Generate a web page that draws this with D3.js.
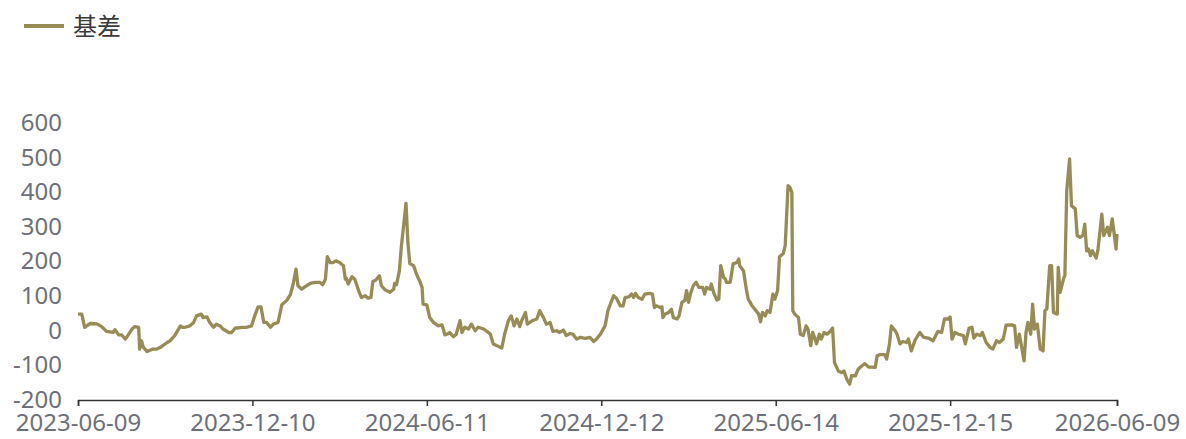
<!DOCTYPE html>
<html>
<head>
<meta charset="utf-8">
<script src="https://cdn.jsdelivr.net/npm/d3@7"></script>
<style>
  html, body { margin: 0; padding: 0; background: #fff; }
  #chart { width: 1186px; height: 439px; }
  text { font-family: "Noto Sans", "Noto Sans CJK SC", sans-serif; }
</style>
</head>
<body>
<div id="chart"></div>
<script>
const startDate = "2023-06-09";
const endDate = "2026-06-09";
const seriesName = "基差";
const tickLabels = ["2023-06-09", "2023-12-10", "2024-06-11", "2024-12-12", "2025-06-14", "2025-12-15", "2026-06-09"];
const yTicks = [-200, -100, 0, 100, 200, 300, 400, 500, 600];

// days since startDate
const dayIndex = [
  0, 4, 7, 13, 20, 25, 30, 37, 39, 43, 46, 50, 53, 57, 60, 64, 65, 67, 69, 73,
  79, 83, 87, 94, 97, 102, 108, 110, 113, 118, 122, 125, 130, 132, 136, 139, 143, 146, 150, 153,
  159, 162, 166, 169, 173, 178, 183, 187, 190, 193, 196, 199, 203, 206, 211, 215, 220, 224, 227, 230,
  232, 236, 241, 245, 250, 255, 258, 261, 263, 266, 269, 272, 276, 280, 282, 283, 285, 289, 292, 296,
  299, 303, 306, 309, 311, 314, 318, 320, 324, 329, 333, 334, 336, 339, 341, 346, 348, 350, 354, 357,
  361, 363, 364, 368, 371, 375, 380, 384, 387, 391, 392, 396, 399, 403, 405, 408, 412, 415, 419, 422,
  428, 433, 435, 438, 442, 447, 450, 454, 457, 460, 463, 466, 468, 472, 474, 479, 484, 487, 491, 494,
  498, 501, 505, 508, 512, 515, 519, 522, 526, 530, 535, 540, 544, 547, 551, 556, 559, 563, 565, 568,
  572, 575, 577, 581, 584, 586, 588, 591, 595, 598, 603, 606, 608, 610, 614, 616, 617, 619, 623, 626,
  628, 632, 634, 637, 640, 642, 644, 646, 649, 652, 655, 659, 661, 663, 667, 668, 671, 674, 676, 678,
  681, 683, 684, 688, 691, 695, 697, 698, 702, 705, 707, 709, 711, 714, 718, 720, 722, 725, 727, 730,
  733, 735, 738, 740, 744, 746, 749, 751, 753, 754, 756, 760, 762, 765, 768, 770, 773, 775, 777, 779,
  782, 784, 787, 790, 793, 796, 798, 802, 806, 808, 811, 814, 816, 820, 823, 827, 830, 834, 837, 841,
  843, 846, 851, 853, 856, 858, 862, 864, 867, 870, 874, 876, 879, 883, 888, 892, 897, 902, 907, 911,
  914, 918, 920, 922, 925, 929, 934, 936, 940, 943, 945, 948, 952, 954, 958, 962, 965, 969, 972, 976,
  979, 985, 988, 990, 993, 998, 1000, 1002, 1005, 1007, 1009, 1012, 1015, 1018, 1020, 1022, 1025, 1027, 1029, 1033,
  1034, 1036, 1040, 1041, 1043, 1046, 1048, 1052, 1054, 1057, 1060, 1062, 1064, 1066, 1068, 1070, 1074, 1076, 1080, 1082,
  1086, 1088, 1091, 1093, 1095, 1096
];
const basis = [
  48, 48, 10, 21, 20, 12, -2, -5, 3, -12, -12, -24, -12, 5, 12, 10, -53, -29, -48, -60,
  -53, -53, -48, -34, -29, -14, 14, 10, 10, 14, 24, 43, 48, 38, 40, 24, 10, 19, 14, 5,
  -5, -5, 8, 8, 10, 10, 14, 48, 69, 69, 24, 24, 10, 19, 24, 75, 87, 104, 135, 178,
  130, 120, 130, 137, 140, 140, 133, 149, 214, 197, 197, 202, 197, 188, 149, 152, 135, 156, 149, 116,
  96, 101, 94, 96, 142, 146, 159, 130, 118, 111, 120, 137, 133, 173, 241, 368, 255, 194, 188, 164,
  140, 125, 77, 75, 38, 24, 14, 17, -12, -8, -5, -17, -10, 29, -5, 10, 5, 19, 0, 10,
  5, -5, -10, -38, -43, -50, -10, 29, 43, 14, 34, 12, 29, 53, 19, 29, 34, 58, 38, 19,
  24, -2, 0, -5, 2, -14, -8, -10, -24, -19, -22, -19, -31, -24, -10, 14, 58, 87, 101, 94,
  72, 72, 96, 98, 106, 96, 108, 96, 91, 106, 108, 106, 67, 72, 67, 69, 38, 48, 53, 62,
  38, 34, 43, 82, 87, 116, 82, 106, 130, 140, 125, 125, 106, 125, 120, 135, 106, 89, 91, 188,
  154, 149, 140, 140, 193, 197, 207, 188, 173, 120, 91, 82, 72, 62, 48, 26, 53, 43, 58, 53,
  106, 91, 116, 214, 223, 246, 419, 414, 400, 58, 48, 38, -10, -14, 14, 5, -43, -5, -19, -38,
  -10, -24, -5, -10, -3, 8, -92, -116, -121, -116, -140, -154, -130, -130, -111, -101, -95, -105, -105, -106,
  -72, -69, -69, -82, -38, 14, 0, -10, -38, -31, -34, -24, -58, -27, -5, -19, -21, -29, -2, -5,
  34, 34, 40, -24, -5, -10, -14, -38, 8, 10, -21, -10, -14, -5, -34, -48, -53, -29, -34, -24,
  16, 17, 14, -48, -10, -87, -5, 24, -10, 77, 5, 19, -53, -58, 58, 63, 188, 188, 53, 48,
  183, 111, 154, 159, 405, 496, 361, 352, 275, 270, 275, 308, 231, 236, 217, 231, 210, 236, 337, 275,
  299, 275, 323, 280, 236, 280
];

const width = 1186;
const height = 439;
const lineColor = "#978c55";

const parse = d3.timeParse("%Y-%m-%d");
const start = parse(startDate);
const data = dayIndex.map((d, i) => ({ date: d3.timeDay.offset(start, d), value: basis[i] }));

const x = d3.scaleTime()
  .domain([start, parse(endDate)])
  .range([78, 1117]);
const y = d3.scaleLinear()
  .domain([-200, 600])
  .range([400, 123]);

const svg = d3.select("#chart").append("svg")
  .attr("width", width)
  .attr("height", height);

// legend
const legend = svg.append("g");
legend.append("line")
  .attr("x1", 24).attr("x2", 64)
  .attr("y1", 26).attr("y2", 26)
  .attr("stroke", lineColor)
  .attr("stroke-width", 4);
legend.append("text")
  .attr("x", 73)
  .attr("y", 35)
  .attr("font-size", 24)
  .attr("fill", "#3a3a3a")
  .style("font-family", "'Noto Sans CJK SC', sans-serif")
  .text(seriesName);

// y axis labels, no line
svg.append("g")
  .selectAll("text")
  .data(yTicks)
  .join("text")
  .attr("x", 62)
  .attr("y", d => y(d))
  .attr("dy", "0.33em")
  .attr("text-anchor", "end")
  .attr("font-size", 24)
  .attr("fill", "#6e7079")
  .text(d => d);

// x axis
const xAxis = d3.axisBottom(x)
  .tickValues(tickLabels.map(parse))
  .tickSize(6)
  .tickPadding(8)
  .tickFormat(d3.timeFormat("%Y-%m-%d"));

const gx = svg.append("g")
  .attr("transform", `translate(0,${y(-200)})`)
  .call(xAxis);
gx.select(".domain").attr("stroke", "#333").attr("stroke-width", 1.5);
gx.selectAll(".tick line").attr("stroke", "#333").attr("stroke-width", 1.5);
gx.selectAll(".tick text")
  .attr("font-size", 24)
  .attr("fill", "#6e7079")
  .style("font-family", "'Noto Sans', sans-serif");

const line = d3.line()
  .x(d => x(d.date))
  .y(d => y(d.value));

svg.append("path")
  .datum(data)
  .attr("fill", "none")
  .attr("stroke", lineColor)
  .attr("stroke-width", 3.3)
  .attr("stroke-linejoin", "round")
  .attr("d", line);
</script>
</body>
</html>
